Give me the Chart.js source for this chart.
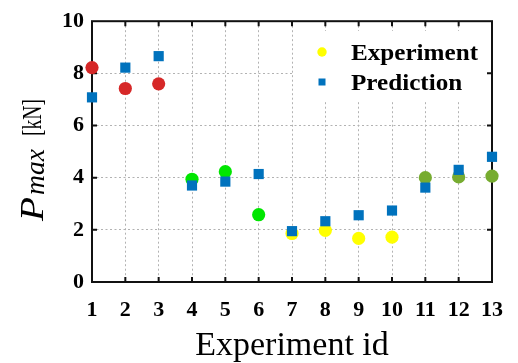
<!DOCTYPE html>
<html>
<head>
<meta charset="utf-8">
<script src="https://cdn.jsdelivr.net/npm/chart.js@4"></script>
<style>
  html, body { margin: 0; padding: 0; background: #fff; }
  #wrap { width: 518px; height: 363px; }
</style>
</head>
<body>
<div id="wrap"><canvas id="chart" width="518" height="363"></canvas></div>
<script>
// Peak load per experiment: measured vs. model prediction
const experimentIds = [1, 2, 3, 4, 5, 6, 7, 8, 9, 10, 11, 12, 13];
const experimentLoad = [8.22, 7.42, 7.6, 3.94, 4.23, 2.58, 1.86, 1.98, 1.67, 1.72, 4.0, 4.03, 4.06];
const predictionLoad = [7.08, 8.22, 8.66, 3.7, 3.85, 4.14, 1.95, 2.33, 2.56, 2.74, 3.62, 4.3, 4.8];
// which test series each experiment belongs to
const experimentSeries = [0, 0, 0, 1, 1, 1, 2, 2, 2, 2, 3, 3, 3];
const xTicks = [1, 2, 3, 4, 5, 6, 7, 8, 9, 10, 11, 12, 13];
const yTicks = [0, 2, 4, 6, 8, 10];
const legendLabels = ['Experiment', 'Prediction'];

const seriesColors = ['#d62828', '#00e600', '#ffff00', '#77ac30'];
const predColor = '#0072bd';
const SERIF = '"Liberation Serif", "Times New Roman", serif';

// draw text stretched/squeezed horizontally to a given width
function fitText(ctx, text, font, x, y, width) {
  ctx.save();
  ctx.font = font;
  const w = ctx.measureText(text).width;
  ctx.translate(x, y);
  ctx.scale(width / w, 1);
  ctx.fillText(text, 0, 0);
  ctx.restore();
}

// frame, inward tick marks, y label and legend box
const decor = {
  id: 'decor',
  beforeDatasetsDraw(chart) {
    const {ctx, chartArea: a, scales: {x, y}} = chart;
    ctx.save();
    ctx.strokeStyle = '#111';
    ctx.lineWidth = 2;
    ctx.strokeRect(a.left, a.top, a.right - a.left, a.bottom - a.top);
    ctx.beginPath();
    xTicks.slice(1, -1).forEach(v => {
      const px = x.getPixelForValue(v);
      ctx.moveTo(px, a.bottom); ctx.lineTo(px, a.bottom - 5);
      ctx.moveTo(px, a.top); ctx.lineTo(px, a.top + 5);
    });
    yTicks.slice(1, -1).forEach(v => {
      const py = y.getPixelForValue(v);
      ctx.moveTo(a.left, py); ctx.lineTo(a.left + 5, py);
      ctx.moveTo(a.right, py); ctx.lineTo(a.right - 5, py);
    });
    ctx.stroke();
    ctx.restore();
  },
  afterDraw(chart) {
    const {ctx} = chart;
    ctx.save();
    // y axis label: P_max [kN], reads bottom to top
    ctx.translate(0, 222);
    ctx.rotate(-Math.PI / 2);
    ctx.fillStyle = '#000';
    ctx.textBaseline = 'alphabetic';
    fitText(ctx, 'P', 'italic 33px ' + SERIF, 1, 43, 24);
    fitText(ctx, 'max', 'italic 27px ' + SERIF, 27, 44, 46);
    fitText(ctx, '[kN]', '27px ' + SERIF, 86, 41, 37);
    ctx.restore();

    // legend
    ctx.save();
    ctx.fillStyle = '#fff';
    ctx.fillRect(293, 31, 194, 69);
    ctx.fillStyle = seriesColors[2];
    ctx.beginPath();
    ctx.arc(322, 52, 4.7, 0, Math.PI * 2);
    ctx.fill();
    ctx.fillStyle = predColor;
    ctx.fillRect(318.5, 78.5, 7, 7);
    ctx.fillStyle = '#000';
    ctx.textBaseline = 'alphabetic';
    const lf = 'bold 23px ' + SERIF;
    ctx.font = lf;
    const k = 127 / ctx.measureText(legendLabels[0]).width;
    fitText(ctx, legendLabels[0], lf, 351, 59.5, ctx.measureText(legendLabels[0]).width * k);
    fitText(ctx, legendLabels[1], lf, 351, 90, ctx.measureText(legendLabels[1]).width * k);
    ctx.restore();
  }
};

const gridStyle = {
  color: '#b2b2b2',
  lineWidth: 1,
  drawTicks: false
};
const gridBorder = {display: false, dash: [2, 2.5]};

new Chart(document.getElementById('chart'), {
  type: 'scatter',
  data: {
    datasets: [
      {
        label: legendLabels[1],
        data: experimentIds.map((id, i) => ({x: id, y: predictionLoad[i]})),
        pointStyle: 'rect',
        pointRadius: 7.2,
        backgroundColor: predColor,
        borderColor: predColor,
        borderWidth: 0,
        clip: false,
        order: 0
      },
      {
        label: legendLabels[0],
        data: experimentIds.map((id, i) => ({x: id, y: experimentLoad[i]})),
        pointStyle: 'circle',
        pointRadius: 6.6,
        backgroundColor: experimentSeries.map(s => seriesColors[s]),
        borderWidth: 0,
        clip: false,
        order: 1
      }
    ]
  },
  options: {
    responsive: false,
    animation: false,
    events: [],
    layout: {padding: {top: 19, right: 21, left: 0, bottom: 0}},
    plugins: {legend: {display: false}, tooltip: {enabled: false}},
    scales: {
      x: {
        type: 'linear',
        min: 1, max: 13,
        afterFit(s) { s.height = 81; },
        afterBuildTicks(s) { s.ticks = xTicks.map(v => ({value: v})); },
        grid: gridStyle,
        border: gridBorder,
        ticks: {color: '#000', padding: 15, maxRotation: 0, autoSkip: false,
                font: {family: SERIF, size: 22, weight: 'bold'}},
        title: {display: true, text: 'Experiment id', color: '#000',
                padding: {top: 0, bottom: 0},
                font: {family: SERIF, size: 34, lineHeight: 1}}
      },
      y: {
        min: 0, max: 10,
        afterFit(s) { s.width = 92; },
        afterBuildTicks(s) { s.ticks = yTicks.map(v => ({value: v})); },
        grid: gridStyle,
        border: gridBorder,
        ticks: {color: '#000', padding: 8,
                font: {family: SERIF, size: 22, weight: 'bold'}}
      }
    }
  },
  plugins: [decor]
});
</script>
</body>
</html>
